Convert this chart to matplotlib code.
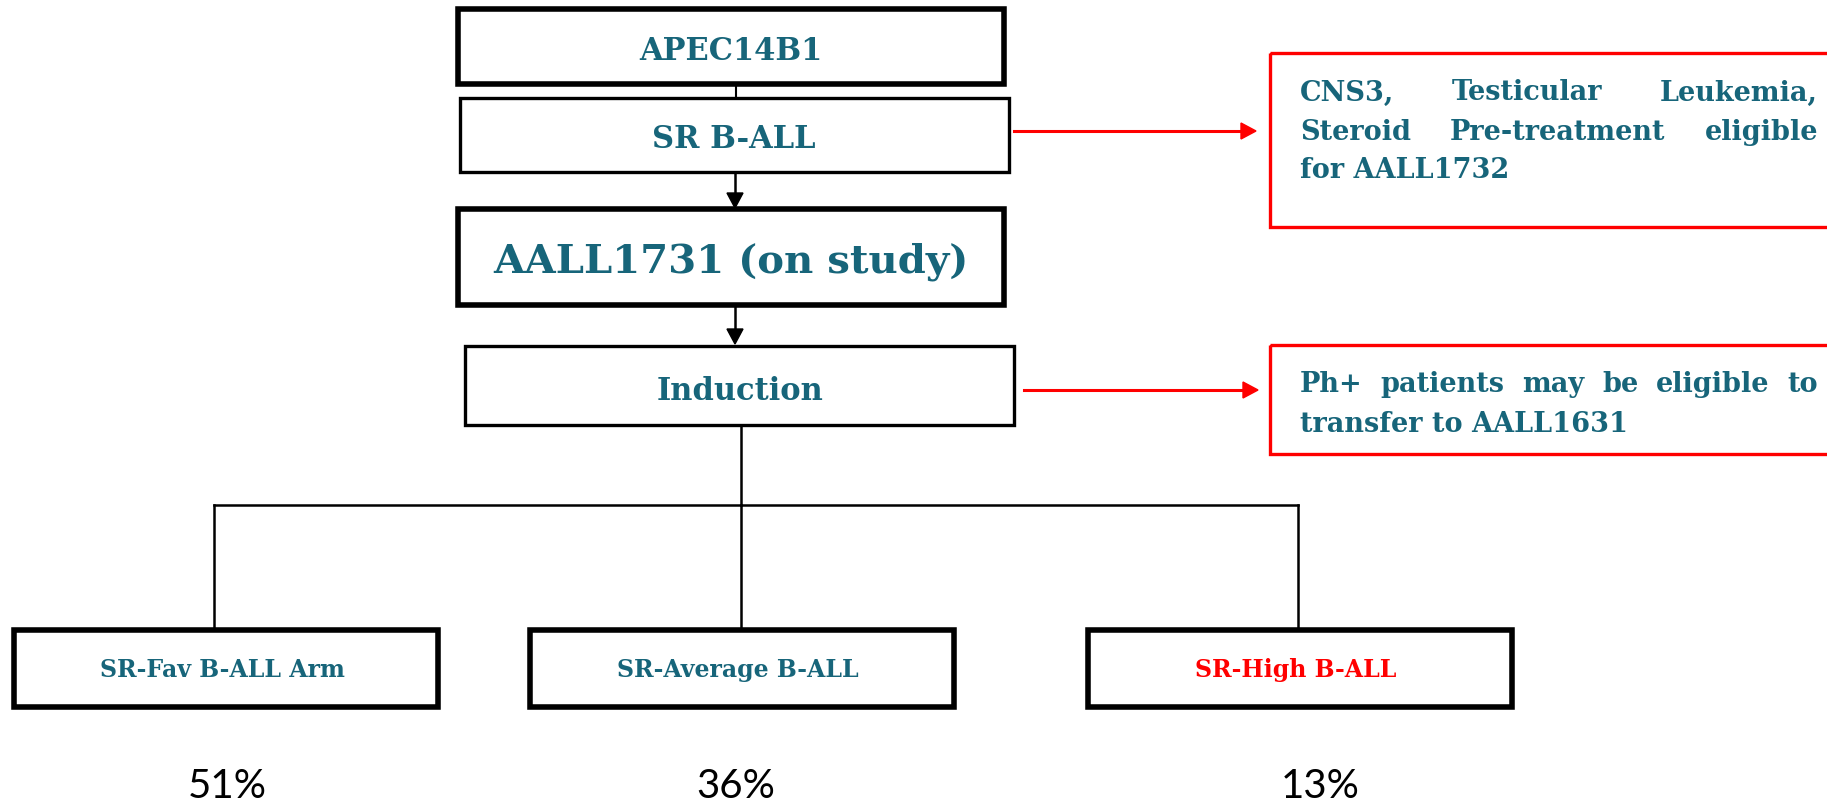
import matplotlib
matplotlib.use('Agg')
import matplotlib.pyplot as plt
from matplotlib.patches import Rectangle, Polygon

# textos del diagrama
caja_apec = 'APEC14B1'
caja_sr = 'SR B-ALL'
caja_estudio = 'AALL1731 (on study)'
caja_induccion = 'Induction'
brazos = ['SR-Fav B-ALL Arm', 'SR-Average B-ALL', 'SR-High B-ALL']
colores_brazos = ['#17657a', '#17657a', '#ff0000']
porcentajes = ['51%', '36%', '13%']
nota_sr = [['CNS3,', 'Testicular', 'Leukemia,'],
           ['Steroid', 'Pre-treatment', 'eligible'],
           ['for AALL1732']]
nota_induccion = [['Ph+', 'patients', 'may', 'be', 'eligible', 'to'],
                  ['transfer to AALL1631']]

teal = '#17657a'
rojo = '#ff0000'
serif = 'DejaVu Serif'

fig = plt.figure(figsize=(18.27, 8.02), dpi=100)
ax = fig.add_axes([0, 0, 1, 1])
ax.set_xlim(0, 1827)
ax.set_ylim(802, 0)
ax.axis('off')


def caja(x0, y0, x1, y1, lw, color='black'):
    ax.add_patch(Rectangle((x0, y0), x1 - x0, y1 - y0, fill=False, lw=lw, ec=color, zorder=3))


def texto(x, y, s, size, color=teal, family=serif, weight='bold'):
    return ax.text(x, y, s, ha='center', va='center', fontsize=size, color=color,
                   family=family, weight=weight, zorder=4)


def flecha_abajo(x, y0, y1, color='black'):
    ax.plot([x, x], [y0, y1 - 14], color=color, lw=1.8, zorder=2)
    ax.add_patch(Polygon([[x - 8, y1 - 15], [x + 8, y1 - 15], [x, y1]], closed=True, color=color, zorder=2))


def flecha_derecha(x0, x1, y, color=rojo):
    ax.plot([x0, x1 - 12], [y, y], color=color, lw=2.2, zorder=2)
    ax.add_patch(Polygon([[x1 - 15, y - 8], [x1 - 15, y + 8], [x1, y]], closed=True, color=color, zorder=2))


renderer = fig.canvas.get_renderer()


def justificado(lineas, x0, x1, y0, paso, size):
    for i, palabras in enumerate(lineas):
        y = y0 + i * paso
        objs = [ax.text(0, y, p, ha='left', va='center', fontsize=size, color=teal,
                        family=serif, weight='bold', zorder=4) for p in palabras]
        if len(objs) == 1:
            objs[0].set_x(x0)
            continue
        anchos = [o.get_window_extent(renderer).width for o in objs]
        hueco = (x1 - x0 - sum(anchos)) / (len(objs) - 1)
        x = x0
        for o, w in zip(objs, anchos):
            o.set_x(x)
            x += w + hueco


# columna central
caja(458, 9, 1004, 84, 4.0)
texto(731, 51, caja_apec, 22)
ax.plot([736, 736], [84, 98], color='black', lw=1.5, zorder=2)
caja(460, 98, 1009, 172, 2.4)
texto(734, 140, caja_sr, 22)
flecha_abajo(735, 172, 208)
caja(458, 209, 1004, 305, 4.0)
texto(731, 262, caja_estudio, 29)
flecha_abajo(735, 305, 344)
caja(465, 346, 1014, 425, 2.4)
texto(740, 391, caja_induccion, 22)

# ramas
ax.plot([741, 741], [425, 505], color='black', lw=1.8, zorder=2)
ax.plot([214, 1298], [505, 505], color='black', lw=1.8, zorder=2)
xs_ramas = [214, 741, 1298]
for xr in xs_ramas:
    ax.plot([xr, xr], [505, 630], color='black', lw=1.8, zorder=2)

cajas_brazos = [(14, 438), (530, 954), (1088, 1512)]
xs_porc = [227, 736, 1320]
for (x0, x1), lab, col, pc, xp in zip(cajas_brazos, brazos, colores_brazos, porcentajes, xs_porc):
    caja(x0, 630, x1, 707, 4.0)
    texto((x0 + x1) / 2 - 4, 670, lab, 17, color=col)
    texto(xp, 787, pc, 29, color='black', family='Lato', weight='normal')

# notas en rojo
caja(1270, 53, 1840, 227, 2.4, color=rojo)
flecha_derecha(1014, 1256, 131)
justificado(nota_sr, 1300, 1818, 93, 39, 19.5)

caja(1270, 345, 1840, 454, 2.4, color=rojo)
flecha_derecha(1024, 1258, 390)
justificado(nota_induccion, 1300, 1818, 384, 41, 19.5)

fig.savefig('out.png', dpi=100, facecolor='white')
